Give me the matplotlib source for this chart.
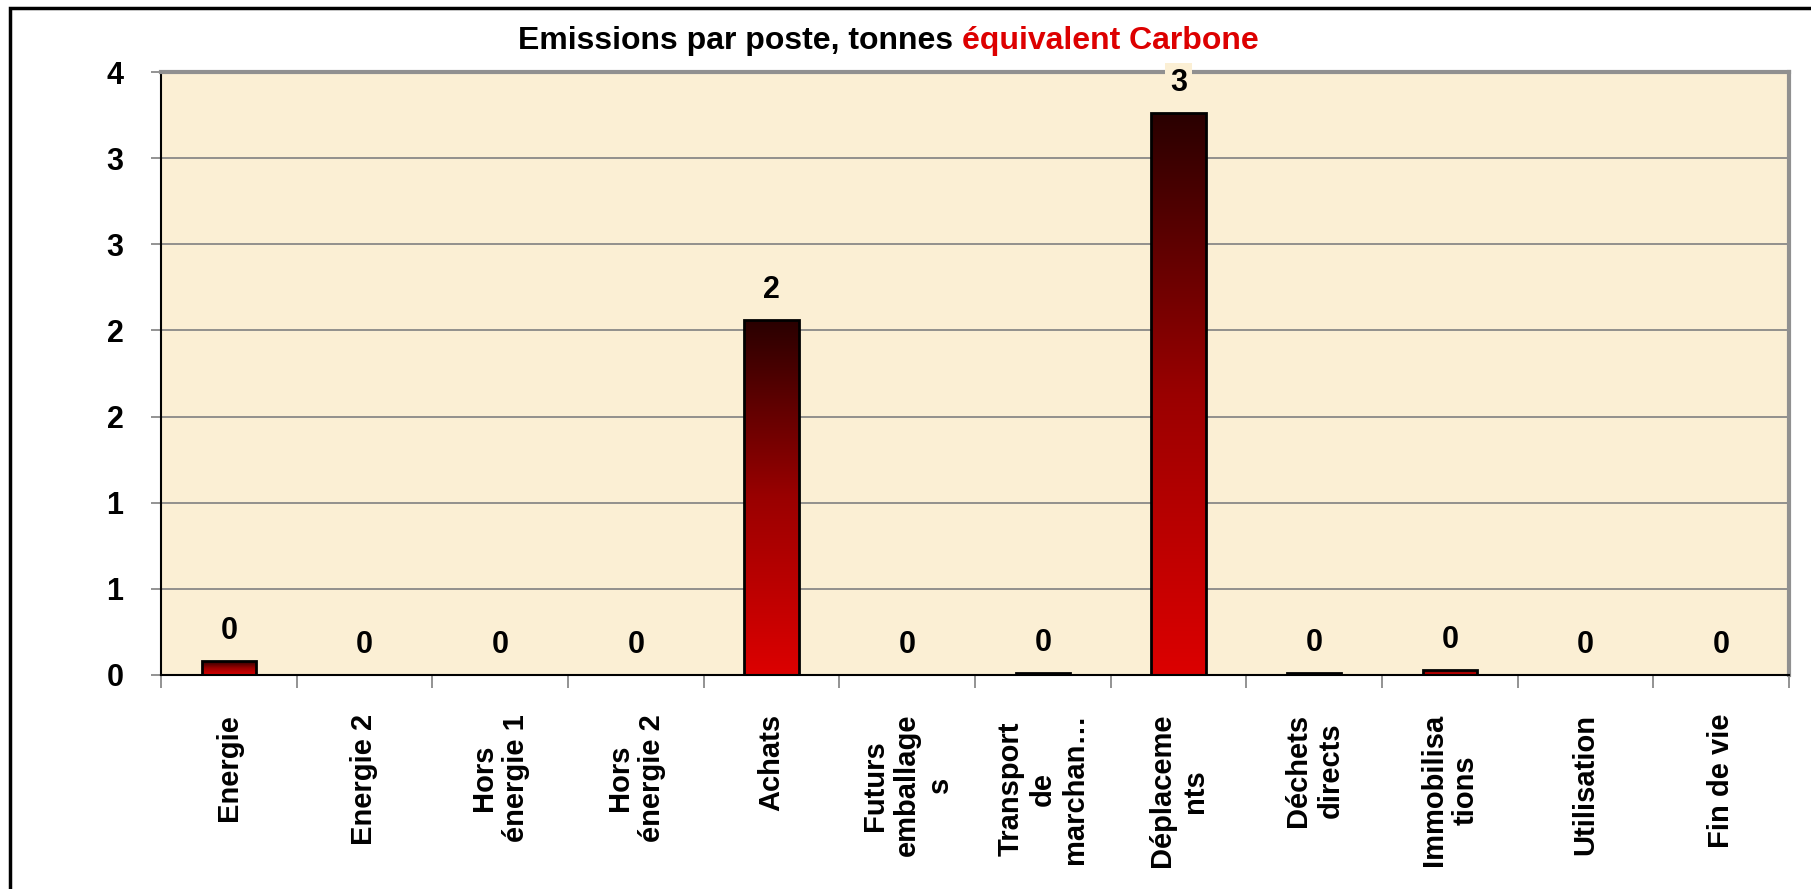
import matplotlib
matplotlib.use("Agg")
import matplotlib.pyplot as plt
import numpy as np
from matplotlib.colors import LinearSegmentedColormap
from matplotlib.patches import Rectangle

# data
categories = ['Energie', 'Energie 2', 'Hors\nénergie 1', 'Hors\nénergie 2', 'Achats',
              'Futurs\nemballage\ns', 'Transport\nde\nmarchan…', 'Déplaceme\nnts',
              'Déchets\ndirects', 'Immobilisa\ntions', 'Utilisation', 'Fin de vie']
emissions = [0.08, 0.0, 0.0, 0.0, 2.06, 0.0, 0.01, 3.26, 0.01, 0.03, 0.0, 0.0]
y_ticks = [0, 0.5, 1.0, 1.5, 2.0, 2.5, 3.0, 3.5]
y_ticklabels = ['0', '1', '1', '2', '2', '3', '3', '4']

plt.rcParams['font.family'] = ['Liberation Sans', 'DejaVu Sans']
plt.rcParams['font.weight'] = 'bold'

W, H = 1811, 889
fig = plt.figure(figsize=(W / 100, H / 100), dpi=100)
fig.patch.set_facecolor('white')

# outer chart frame (right/bottom edges run off the picture)
fig.patches.append(Rectangle((10 / W, -0.05), 1.2, (H - 8) / H + 0.05,
                             transform=fig.transFigure, fill=False,
                             edgecolor='black', linewidth=2.5, zorder=0))

left, right, top, bottom = 161, 1789, 72, 675
ax = fig.add_axes([left / W, (H - bottom) / H, (right - left) / W, (bottom - top) / H])
ax.set_facecolor('#fbefd4')

x = np.arange(len(categories))
bars = ax.bar(x, emissions, width=0.4, facecolor='none', edgecolor='black',
              linewidth=2, zorder=3)

# vertical red gradient inside each bar
grad_cmap = LinearSegmentedColormap.from_list('redgrad', ['#dc0000', '#9a0000', '#2a0000'])
grad = np.linspace(0, 1, 256).reshape(-1, 1)
for b in bars:
    h = b.get_height()
    if h <= 0:
        continue
    im = ax.imshow(grad, cmap=grad_cmap, origin='lower', aspect='auto',
                   extent=[b.get_x(), b.get_x() + b.get_width(), 0, h], zorder=2)
    im.set_clip_path(b)

# value labels
for xi, v in zip(x, emissions):
    ax.annotate(f"{v:.0f}", (xi, v), xytext=(0, 11), textcoords='offset points',
                ha='center', va='bottom', fontsize=22, fontweight='bold',
                bbox=dict(boxstyle='square,pad=0.15', facecolor='#fbefd4', edgecolor='none'),
                zorder=4)

ax.set_xlim(-0.5, len(categories) - 0.5)
ax.set_ylim(0, 3.5)

ax.set_yticks(y_ticks)
ax.set_yticklabels(y_ticklabels, fontsize=22, fontweight='bold')
ax.yaxis.grid(True, color='#808080', linewidth=1.2, zorder=1)
ax.set_axisbelow(True)
ax.tick_params(axis='y', length=7, color='#808080', width=1.2, pad=20)

ax.set_xticks(x)
ax.set_xticklabels(categories, rotation=90, fontsize=21, fontweight='bold',
                   va='top', ha='center', multialignment='center')
ax.set_xticks(np.arange(-0.5, len(categories)), minor=True)
ax.tick_params(axis='x', which='major', length=0, pad=28)
ax.tick_params(axis='x', which='minor', length=9, color='#808080', width=1.2)

for side in ['left', 'bottom']:
    ax.spines[side].set_color('black')
    ax.spines[side].set_linewidth(1.5)
for side in ['top', 'right']:
    ax.spines[side].set_color('#909090')
    ax.spines[side].set_linewidth(3)

# two-colour title
fig.canvas.draw()
r = fig.canvas.get_renderer()
t1 = fig.text(0, 1 - 41 / H, 'Emissions par poste, tonnes ', fontsize=23,
              fontweight='bold', color='black', va='center', ha='left')
t2 = fig.text(0, 1 - 41 / H, 'équivalent Carbone', fontsize=23,
              fontweight='bold', color='#dd0000', va='center', ha='left')
w1 = t1.get_window_extent(r).width
w2 = t2.get_window_extent(r).width
x0 = 888 - (w1 + w2) / 2
t1.set_x(x0 / W)
t2.set_x((x0 + w1) / W)

fig.savefig('out.png', dpi=100)
